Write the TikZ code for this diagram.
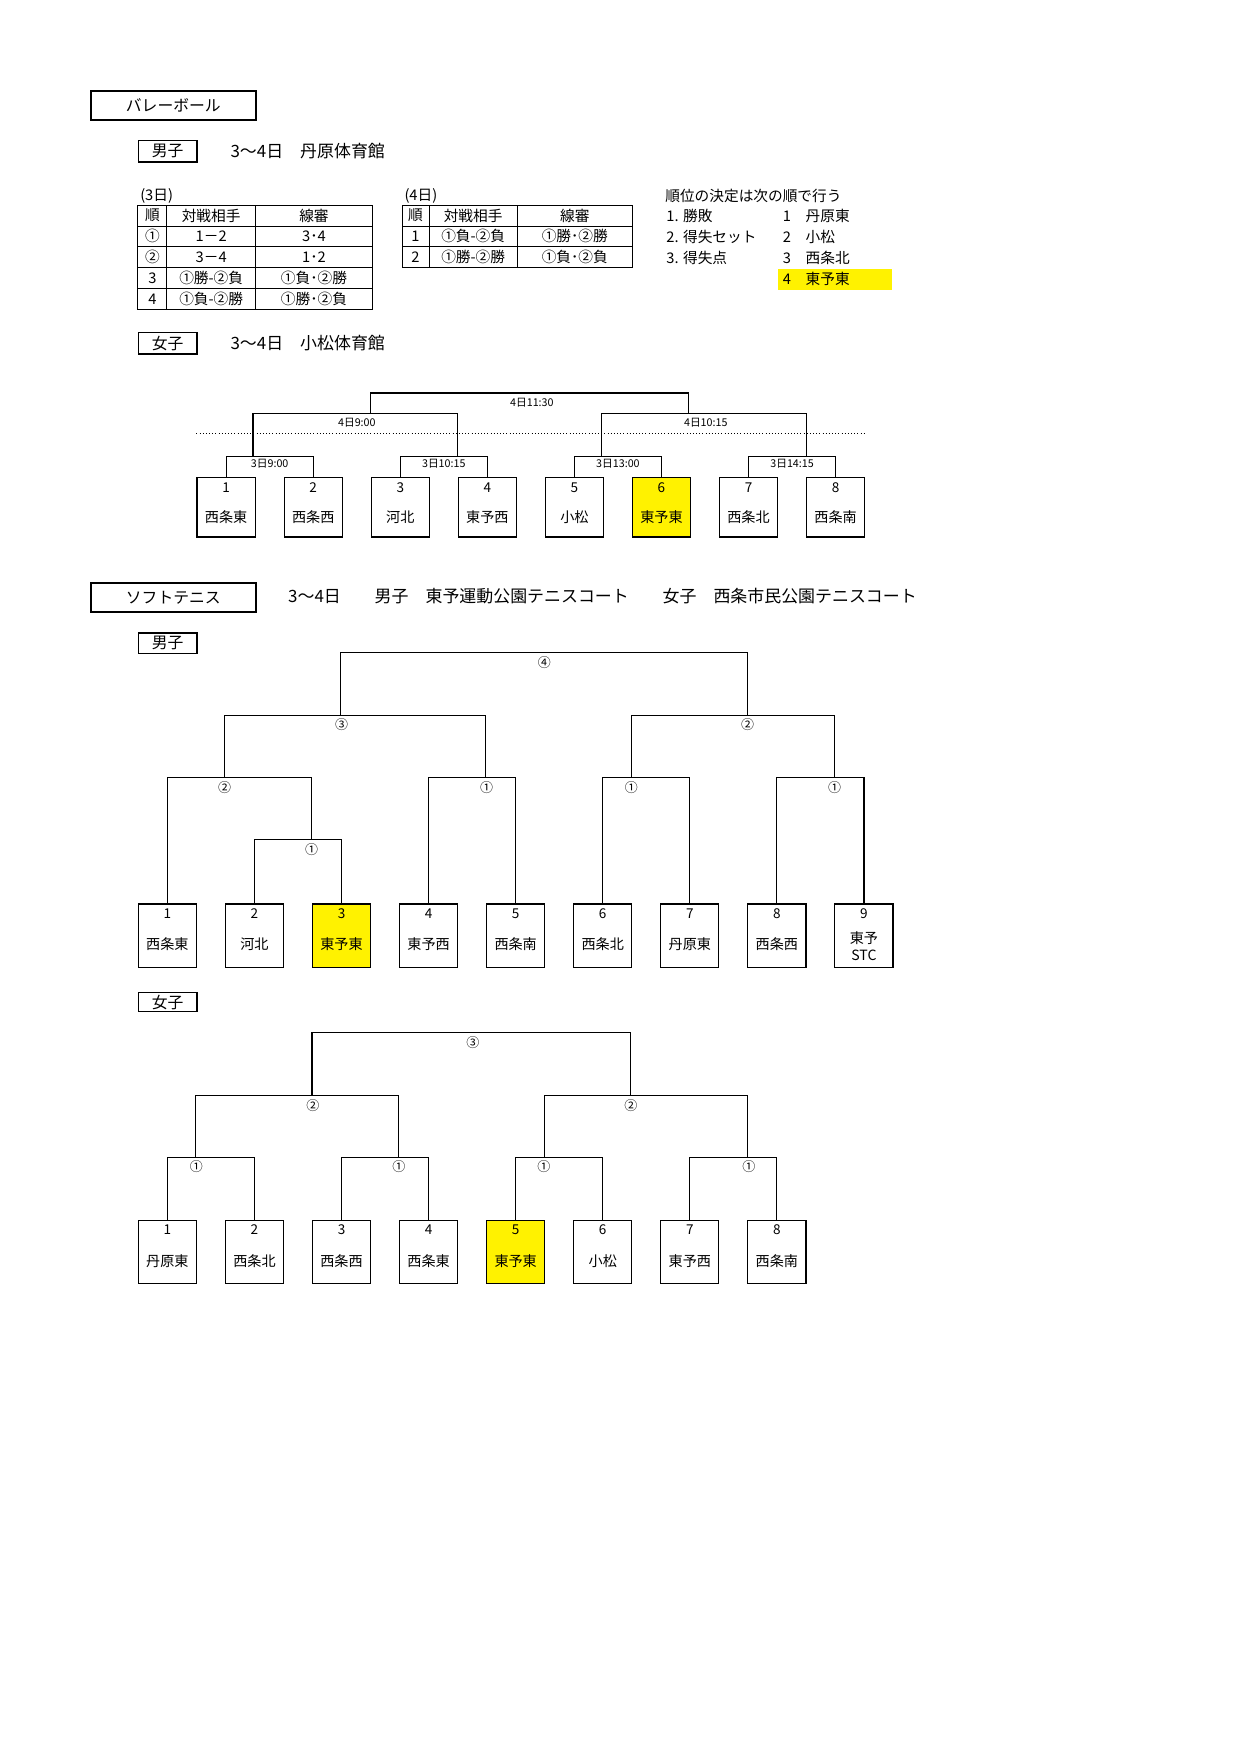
\documentclass[tikz,border=0pt]{standalone}
\usepackage{fontspec}
\setmainfont{Noto Sans CJK JP}
\usetikzlibrary{calc}
\begin{document}
\begin{tikzpicture}[x=1pt,y=-1pt,
  lbox/.style={draw,line width=1pt,anchor=north west,minimum width=51.5pt,minimum height=#1,inner sep=0pt},
  lbox/.default=55pt,
  hl/.style={fill=yellow},
  num/.style={font=\fontsize{12}{12}\selectfont,inner sep=0pt},
  nm/.style={font=\fontsize{12.5}{13}\selectfont,inner sep=0pt},
  br/.style={line width=1pt},
  tl/.style={font=\fontsize{9.5}{10}\selectfont,inner sep=0pt,anchor=north},
  cl/.style={font=\fontsize{11.5}{12}\selectfont,inner sep=0pt},
  hd/.style={font=\fontsize{15}{16}\selectfont,inner sep=0pt,anchor=west},
  tx/.style={font=\fontsize{13}{14}\selectfont,inner sep=0pt},
  tag/.style={draw,line width=1pt,anchor=north west,inner sep=0pt,font=\fontsize{14}{15}\selectfont},
]
\useasboundingbox (0,0) rectangle (1100,1555);
% ---------- Volleyball header
\node[draw,line width=2pt,anchor=north west,minimum width=146pt,minimum height=26pt,inner sep=0pt,font=\fontsize{14}{15}\selectfont] (vtitle) at (79.5,79.5) {バレーボール};
\node[tag,minimum width=52pt,minimum height=19pt] (vmboy) at (122,124) {男子};
\node[hd] (vmhd) at (204,133.5) {3～4日　丹原体育館};
% table 1
\node[tx,anchor=west] (t1cap) at (124,173.5) {(3日)};
\draw[line width=1pt] (122,181.6) rectangle (329.6,274.1);
\foreach \yy in {200.2,218.5,237.1,255.5} \draw[line width=1pt] (122,\yy) -- (329.6,\yy);
\foreach \xx in {147.8,226.2} \draw[line width=1pt] (\xx,181.6) -- (\xx,274.1);
\foreach \r/\a/\b [count=\i] in {{順}/{対戦相手}/{線審},{①}/{1－2}/{3･4},{②}/{3－4}/{1･2},{3}/{①勝-②負}/{①負･②勝},{4}/{①負-②勝}/{①勝･②負}}{
  \pgfmathsetmacro{\yc}{181.6+18.5*(\i-1)+9.25}
  \node[tx] (t1a\i) at (135,\yc) {\r};
  \node[tx] (t1b\i) at (187,\yc) {\a};
  \node[tx] (t1c\i) at (278,\yc) {\b};
}
% table 2
\node[tx,anchor=west] (t2cap) at (358,173.5) {(4日)};
\draw[line width=1pt] (356.3,181.6) rectangle (560,237.1);
\foreach \yy in {200.2,218.5} \draw[line width=1pt] (356.3,\yy) -- (560,\yy);
\foreach \xx in {380,458} \draw[line width=1pt] (\xx,181.6) -- (\xx,237.1);
\foreach \r/\a/\b [count=\i] in {{順}/{対戦相手}/{線審},{1}/{①負-②負}/{①勝･②勝},{2}/{①勝-②勝}/{①負･②負}}{
  \pgfmathsetmacro{\yc}{181.6+18.5*(\i-1)+9.25}
  \node[tx] (t2a\i) at (368,\yc) {\r};
  \node[tx] (t2b\i) at (419,\yc) {\a};
  \node[tx] (t2c\i) at (509,\yc) {\b};
}
% ranking
\fill[yellow] (689,238) rectangle (790,256.5);
\node[tx,anchor=west] (rk0) at (589,173.5) {順位の決定は次の順で行う};
\node[tx,anchor=west] (rk1) at (590,191) {1. 勝敗};
\node[tx,anchor=west] (rk2) at (590,209.5) {2. 得失セット};
\node[tx,anchor=west] (rk3) at (590,228) {3. 得失点};
\node[tx,anchor=west] (rr1) at (693,191) {1　丹原東};
\node[tx,anchor=west] (rr2) at (693,209.5) {2　小松};
\node[tx,anchor=west] (rr3) at (693,228) {3　西条北};
\node[tx,anchor=west] (rr4) at (693,247) {4　東予東};
% ---------- Volleyball women
\node[tag,minimum width=52pt,minimum height=19pt] (vwgirl) at (122,294) {女子};
\node[hd] (vwhd) at (204,303.5) {3～4日　小松体育館};
\draw[dotted,line width=0.8pt] (174,384) -- (765,384);
\foreach \t/\n [count=\i] in {1/西条東,2/西条西,3/河北,4/東予西,5/小松,6/東予東,7/西条北,8/西条南}{
  \pgfmathsetmacro{\xl}{174+77.1*(\i-1)}
  \ifnum\i=6 \node[lbox=53pt,hl] (vb\i) at (\xl,422) {};
  \else \node[lbox=53pt] (vb\i) at (\xl,422) {}; \fi
  \node[num] (vbn\i) at ([yshift=-10pt]vb\i.north) {\t};
  \node[nm] (vbm\i) at ([yshift=-36pt]vb\i.north) {\n};
}
\foreach \p/\q/\lab [count=\k] in {1/2/3日9:00,3/4/3日10:15,5/6/3日13:00,7/8/3日14:15}{
  \coordinate (va\k) at ($(vb\p.north)!0.5!(vb\q.north)+(0,-18)$);
  \draw[br] (vb\p.north) |- (va\k) -| (vb\q.north);
  \node[tl] (val\k) at ([yshift=-2.5pt]va\k) {\lab};
}
\coordinate (vs1) at (314.5,366); \coordinate (vs2) at (623.5,366);
\coordinate (vq1) at (224,404); \coordinate (vq2) at (405,404);
\coordinate (vq3) at (533,404); \coordinate (vq4) at (714,404);
\draw[br] (vq1) |- (vs1) -| (vq2);
\draw[br] (vq3) |- (vs2) -| (vq4);
\node[tl] (vsl1) at (316,370) {4日9:00};
\node[tl] (vsl2) at (625,370) {4日10:15};
\coordinate (vt) at (469,348); \coordinate (vr1) at (328,366); \coordinate (vr2) at (610,366);
\draw[br] (vr1) |- (vt) -| (vr2);
\node[tl] (vtl) at (471,352) {4日11:30};
% ---------- Soft tennis
\node[draw,line width=2pt,anchor=north west,minimum width=146pt,minimum height=26pt,inner sep=0pt,font=\fontsize{14}{15}\selectfont] (stitle) at (79.5,515) {ソフトテニス};
\node[hd] (sthd) at (255,528) {3～4日　　男子　東予運動公園テニスコート　　女子　西条市民公園テニスコート};
\node[tag,minimum width=52pt,minimum height=18pt] (smboy) at (122,560) {男子};
\foreach \t/\n [count=\i] in {1/西条東,2/河北,3/東予東,4/東予西,5/西条南,6/西条北,7/丹原東,8/西条西,9/{}}{
  \pgfmathsetmacro{\xl}{122+77.1*(\i-1)}
  \ifnum\i=3 \node[lbox=56pt,hl] (tm\i) at (\xl,800) {};
  \else \node[lbox=56pt] (tm\i) at (\xl,800) {}; \fi
  \node[num] (tmn\i) at ([yshift=-9pt]tm\i.north) {\t};
  \node[nm] (tmm\i) at ([yshift=-36pt]tm\i.north) {\n};
}
\node[nm,align=center,font=\fontsize{12.5}{15}\selectfont] (tmx) at ([yshift=-38pt]tm9.north) {東予\\STC};
% level 1
\coordinate (m1) at (263,743.5);
\draw[br] (tm2.north) |- (m1) -| (tm3.north);
\node[cl] (ml1) at (276,752) {①};
% level 2
\coordinate (m2a) at (212,688.6); \coordinate (m1j) at (276,743.5);
\draw[br] (tm1.north) |- (m2a) -| (m1j);
\node[cl] (ml2a) at (199,697) {②};
\foreach \p/\q/\lx [count=\k] in {4/5/431,6/7/559,8/9/739}{
  \coordinate (m2\k) at ($(tm\p.north)!0.5!(tm\q.north)+(0,-111.4)$);
  \draw[br] (tm\p.north) |- (m2\k) -| (tm\q.north);
  \node[cl] (ml2\k) at (\lx,697) {①};
}
% level 3
\coordinate (m3a) at (314,633.3); \coordinate (m3b) at (649,633.3);
\coordinate (j31) at (199,688.6); \coordinate (j32) at (430,688.6);
\coordinate (j33) at (559,688.6); \coordinate (j34) at (738.7,688.6);
\draw[br] (j31) |- (m3a) -| (j32);
\draw[br] (j33) |- (m3b) -| (j34);
\node[cl] (ml3a) at (302.6,642) {③};
\node[cl] (ml3b) at (662,642) {②};
% top
\coordinate (m4) at (481.6,578);
\coordinate (j41) at (301.6,633.3); \coordinate (j42) at (661.7,633.3);
\draw[br] (j41) |- (m4) -| (j42);
\node[cl] (ml4) at (482,587) {④};
% ---------- Women soft tennis
\node[tag,minimum width=52pt,minimum height=17pt] (swgirl) at (122,878.5) {女子};
\foreach \t/\n [count=\i] in {1/丹原東,2/西条北,3/西条西,4/西条東,5/東予東,6/小松,7/東予西,8/西条南}{
  \pgfmathsetmacro{\xl}{122+77.1*(\i-1)}
  \ifnum\i=5 \node[lbox=56pt,hl] (tw\i) at (\xl,1080) {};
  \else \node[lbox=56pt] (tw\i) at (\xl,1080) {}; \fi
  \node[num] (twn\i) at ([yshift=-9pt]tw\i.north) {\t};
  \node[nm] (twm\i) at ([yshift=-37pt]tw\i.north) {\n};
}
\foreach \p/\q/\lx [count=\k] in {1/2/173.8,3/4/353.3,5/6/481.7,7/8/663.2}{
  \coordinate (w1\k) at ($(tw\p.north)!0.5!(tw\q.north)+(0,-55)$);
  \draw[br] (tw\p.north) |- (w1\k) -| (tw\q.north);
  \node[cl] (wl1\k) at (\lx,1033) {①};
}
\coordinate (w2a) at (263,969.9); \coordinate (w2b) at (572,969.9);
\coordinate (k1) at (173.4,1025); \coordinate (k2) at (352.9,1025);
\coordinate (k3) at (482.1,1025); \coordinate (k4) at (661.6,1025);
\draw[br] (k1) |- (w2a) -| (k2);
\draw[br] (k3) |- (w2b) -| (k4);
\node[cl] (wl2a) at (277,978.8) {②};
\node[cl] (wl2b) at (558.7,978.8) {②};
\coordinate (w3) at (417.5,914.4);
\coordinate (k5) at (276.3,969.9); \coordinate (k6) at (558.7,969.9);
\draw[br] (k5) |- (w3) -| (k6);
\node[cl] (wl3) at (418.7,923.3) {③};
\end{tikzpicture}
\end{document}
